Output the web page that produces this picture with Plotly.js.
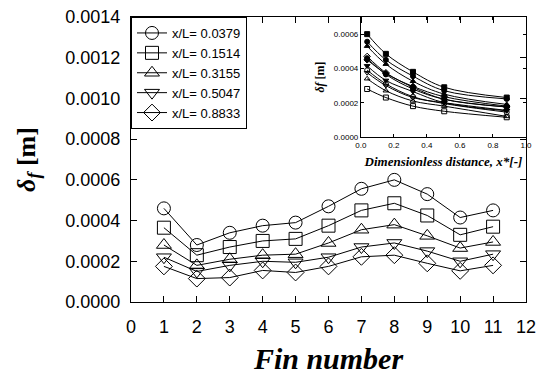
<!DOCTYPE html>
<html>
<head>
<meta charset="utf-8">
<script src="https://cdn.plot.ly/plotly-3.0.1.min.js"></script>
<style>html,body{margin:0;padding:0;background:#fff;}#chart{width:536px;height:376px;}</style>
</head>
<body>
<div id="chart"></div>
<script>
// ---- data ----
const fins = [1, 2, 3, 4, 5, 6, 7, 8, 9, 10, 11];
const xL = [0.0379, 0.1514, 0.3155, 0.5047, 0.8833];
const seriesNames = ["x/L= 0.0379", "x/L= 0.1514", "x/L= 0.3155", "x/L= 0.5047", "x/L= 0.8833"];
const d0379 = [0.00046, 0.00028, 0.00034, 0.000375, 0.00039, 0.00047, 0.000556, 0.0006, 0.00053, 0.000415, 0.00045];
const d1514 = [0.000365, 0.00023, 0.00027, 0.0003, 0.00031, 0.000375, 0.00045, 0.000485, 0.000425, 0.00033, 0.00037];
const d3155 = [0.00028, 0.00018, 0.00021, 0.00023, 0.000235, 0.00029, 0.000355, 0.00038, 0.000325, 0.000265, 0.000295];
const d5047 = [0.00022, 0.00015, 0.00018, 0.0002, 0.000195, 0.00022, 0.00027, 0.00029, 0.00025, 0.0002, 0.000235];
const d8833 = [0.000175, 0.000115, 0.00012, 0.000155, 0.000145, 0.000175, 0.000222, 0.00023, 0.00019, 0.000153, 0.00018];
const xTicks = [0,1,2,3,4,5,6,7,8,9,10,11,12];
const yTicks = [0, 0.0002, 0.0004, 0.0006, 0.0008, 0.0010, 0.0012, 0.0014];
const yTickText = ["0.0000","0.0002","0.0004","0.0006","0.0008","0.0010","0.0012","0.0014"];
const insetXTicks = [0, 0.2, 0.4, 0.6, 0.8, 1.0];
const insetXText = ["0.0","0.2","0.4","0.6","0.8","1.0"];
const insetYTicks = [0, 0.0002, 0.0004, 0.0006];
const insetYText = ["0.0000","0.0002","0.0004","0.0006"];

// ---- styles ----
const allSeries = [d0379, d1514, d3155, d5047, d8833];
const mainSymbols = ["circle-open", "square-open", "triangle-up-open", "triangle-down-open", "diamond-open"];
const insetSymbols = ["circle", "square-open", "triangle-up-open", "triangle-down-open", "circle-open",
  "diamond-open", "circle", "square", "triangle-up", "triangle-down", "diamond"];

const traces = [];
allSeries.forEach((ys, i) => {
  traces.push({
    x: fins, y: ys, type: "scatter", mode: "lines+markers", name: seriesNames[i],
    line: {color: "#000", width: 1},
    marker: {symbol: mainSymbols[i], size: 13, color: "#000", line: {color: "#000", width: 1}},
    xaxis: "x", yaxis: "y"
  });
});
fins.forEach((f, j) => {
  traces.push({
    x: xL, y: allSeries.map(s => s[j]), type: "scatter", mode: "lines+markers",
    showlegend: false, name: "Fin " + f,
    line: {color: "#000", width: 1, shape: "spline"},
    marker: {symbol: insetSymbols[j], size: 5, color: "#000", line: {color: "#000", width: 1}},
    xaxis: "x2", yaxis: "y2"
  });
});

const sans = "Liberation Sans, Arial, sans-serif";
const serif = "Liberation Serif, Times New Roman, serif";

const layout = {
  width: 536, height: 376,
  margin: {l: 131, r: 10, t: 17, b: 74},
  paper_bgcolor: "#fff", plot_bgcolor: "rgba(0,0,0,0)",
  font: {family: sans, color: "#000"},
  showlegend: true,
  legend: {x: 0, y: 1, xanchor: "left", yanchor: "top", bgcolor: "#fff",
    bordercolor: "#000", borderwidth: 1, font: {family: sans, size: 13, color: "#000"},
    tracegroupgap: 0},
  xaxis: {domain: [0, 1], range: [0, 12], tickvals: xTicks, ticktext: xTicks.map(String),
    ticks: "inside", ticklen: 6, tickcolor: "#000", showline: true, linecolor: "#000", linewidth: 1,
    mirror: "ticks", showgrid: false, zeroline: false, tickfont: {family: sans, size: 18},
    ticklabelstandoff: 8, ticklabeloverflow: "allow",
    title: {text: "<b><i>Fin number</i></b>", font: {family: serif, size: 30}, standoff: 12}},
  yaxis: {domain: [0, 1], range: [0, 0.0014], tickvals: yTicks, ticktext: yTickText,
    ticks: "inside", ticklen: 6, tickcolor: "#000", showline: true, linecolor: "#000", linewidth: 1,
    mirror: "ticks", showgrid: false, zeroline: false, tickfont: {family: sans, size: 18},
    ticklabelstandoff: 6,
    title: {text: "<b><i>δ<sub>f</sub></i> [m]</b>", font: {family: serif, size: 26}, standoff: 22}},
  xaxis2: {domain: [0.582, 1], anchor: "y2", range: [0, 1], tickvals: insetXTicks, ticktext: insetXText,
    ticks: "inside", ticklen: 3, tickcolor: "#000", showline: true, linecolor: "#000", linewidth: 1,
    mirror: "ticks", showgrid: false, zeroline: false, tickfont: {family: sans, size: 8},
    ticklabeloverflow: "allow",
    title: {text: "<b><i>Dimensionless distance, x*[-]</i></b>", font: {family: serif, size: 13}, standoff: 8}},
  yaxis2: {domain: [0.579, 1], anchor: "x2", range: [0, 0.0007], tickvals: insetYTicks, ticktext: insetYText,
    ticks: "inside", ticklen: 3, tickcolor: "#000", showline: true, linecolor: "#000", linewidth: 1,
    mirror: "ticks", showgrid: false, zeroline: false, tickfont: {family: sans, size: 8},
    title: {text: "<b><i>δf</i> [m]</b>", font: {family: serif, size: 12}, standoff: 6}},
  shapes: [{type: "rect", xref: "paper", yref: "paper", x0: 0.582, x1: 1, y0: 0.579, y1: 1,
    fillcolor: "#fff", line: {width: 0}, layer: "below"}]
};

Plotly.newPlot("chart", traces, layout, {displayModeBar: false, staticPlot: true});
</script>
</body>
</html>
